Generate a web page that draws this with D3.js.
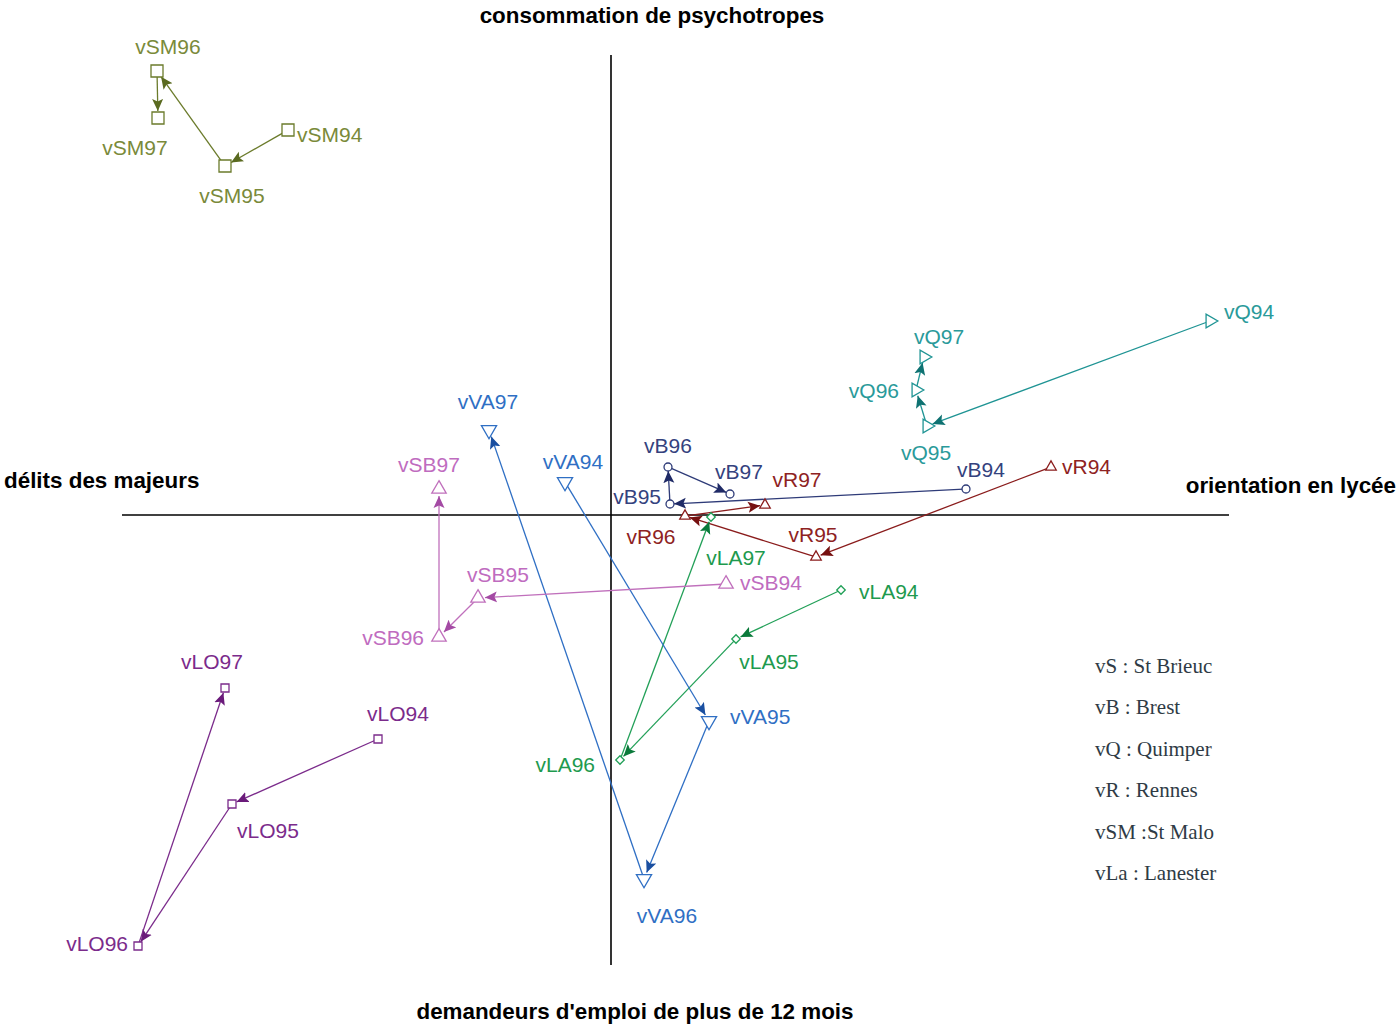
<!DOCTYPE html>
<html><head><meta charset="utf-8">
<script src="https://cdn.jsdelivr.net/npm/d3@7"></script>
<style>body{margin:0;background:#fff}svg{display:block}</style>
</head><body>
<svg id="c" width="1397" height="1024"></svg>
<script>
// ---- DATA ----
const years = ["94", "95", "96", "97"];
const seriesNames = ["vSM", "vQ", "vB", "vR", "vLA", "vVA", "vSB", "vLO"];
const xSM = [-3.23, -3.86, -4.54, -4.53];
const ySM = [3.85, 3.49, 4.44, 3.97];
const xQ = [5.99, 3.16, 3.05, 3.13];
const yQ = [1.94, 0.89, 1.25, 1.58];
const xB = [3.55, 0.59, 0.57, 1.19];
const yB = [0.26, 0.11, 0.48, 0.21];
const xR = [4.40, 2.05, 0.74, 1.54];
const yR = [0.48, -0.42, -0.01, 0.10];
const xLA = [2.30, 1.25, 0.09, 1.00];
const yLA = [-0.75, -1.24, -2.45, -0.02];
const xVA = [-0.46, 0.98, 0.33, -1.22];
const yVA = [0.33, -2.06, -3.64, 0.85];
const xSB = [1.15, -1.33, -1.72, -1.72];
const ySB = [-0.69, -0.83, -1.22, 0.26];
const xLO = [-2.33, -3.79, -4.73, -3.86];
const yLO = [-2.24, -2.89, -4.31, -1.73];
const axisTitles = ["consommation de psychotropes", "délits des majeurs", "orientation en lycée", "demandeurs d'emploi de plus de 12 mois"];
const legendLines = ["vS : St Brieuc", "vB : Brest", "vQ : Quimper", "vR : Rennes", "vSM :St Malo", "vLa : Lanester"];

// ---- STYLE / LAYOUT ----
const seriesX = [xSM, xQ, xB, xR, xLA, xVA, xSB, xLO];
const seriesY = [ySM, yQ, yB, yR, yLA, yVA, ySB, yLO];
const styles = [
  {line:"#6b7b2b", head:"#5a6a20", text:"#7a8a3a", shape:"square", size:144, rot:0, r:7},
  {line:"#1f9494", head:"#0f7272", text:"#2a9a9a", shape:"tri", size:80, rot:90, r:6},
  {line:"#2e3b78", head:"#1f2a66", text:"#34427e", shape:"circle", size:50, rot:0, r:4},
  {line:"#8a1c1c", head:"#761010", text:"#8e2222", shape:"tri", size:48, rot:0, r:5},
  {line:"#22a058", head:"#0a7a3a", text:"#1e9a4e", shape:"diamond", size:36, rot:45, r:5},
  {line:"#2f6fc4", head:"#1a4fa0", text:"#2f6fc4", shape:"tri", size:100, rot:180, r:7},
  {line:"#c070bc", head:"#a44aa4", text:"#bf6cbf", shape:"tri", size:90, rot:0, r:7},
  {line:"#7b2b8b", head:"#6a1a7a", text:"#7b2b8b", shape:"square", size:64, rot:0, r:5}
];
// label offsets [dx, dy, anchor]
const labelOffsets = {
  vSM94:[9,4,"start"], vSM95:[7,29,"middle"], vSM96:[11,-25,"middle"], vSM97:[-23,29,"middle"],
  vQ94:[14,-10,"start"], vQ95:[-1,26,"middle"], vQ96:[-17,0,"end"], vQ97:[15,-21,"middle"],
  vB94:[15,-20,"middle"], vB95:[-9,-8,"end"], vB96:[0,-22,"middle"], vB97:[9,-23,"middle"],
  vR94:[11,-1,"start"], vR95:[-3,-23,"middle"], vR96:[-34,20,"middle"], vR97:[32,-26,"middle"],
  vLA94:[18,1,"start"], vLA95:[33,22,"middle"], vLA96:[-25,4,"end"], vLA97:[25,40,"middle"],
  vVA94:[8,-21,"middle"], vVA95:[21,-5,"start"], vVA96:[23,36,"middle"], vVA97:[-1,-29,"middle"],
  vSB94:[14,-2,"start"], vSB95:[20,-24,"middle"], vSB96:[-15,0,"end"], vSB97:[-10,-25,"middle"],
  vLO94:[20,-26,"middle"], vLO95:[36,26,"middle"], vLO96:[-10,-3,"end"], vLO97:[-13,-27,"middle"]
};

const svg = d3.select("#c");
const x = d3.scaleLinear().domain([-4.89, 6.18]).range([122, 1229]);
const y = d3.scaleLinear().domain([-4.5, 4.6]).range([965, 55]);

// axes through origin
svg.append("line").attr("x1", x(-4.89)).attr("x2", x(6.18)).attr("y1", y(0)).attr("y2", y(0))
  .attr("stroke", "#000").attr("stroke-width", 1.6);
svg.append("line").attr("x1", x(0)).attr("x2", x(0)).attr("y1", y(4.6)).attr("y2", y(-4.5))
  .attr("stroke", "#000").attr("stroke-width", 1.6);

// axis titles
const tfont = "'Liberation Sans', Arial, sans-serif";
const titleStyle = s => s.attr("font-family", tfont).attr("font-weight", "bold").attr("font-size", 22.4).attr("fill", "#000");
svg.append("text").text(axisTitles[0]).attr("x", 652).attr("y", 23).attr("text-anchor", "middle").call(titleStyle);
svg.append("text").text(axisTitles[1]).attr("x", 4).attr("y", 488).attr("text-anchor", "start").call(titleStyle);
svg.append("text").text(axisTitles[2]).attr("x", 1396).attr("y", 493).attr("text-anchor", "end").call(titleStyle);
svg.append("text").text(axisTitles[3]).attr("x", 635).attr("y", 1019).attr("text-anchor", "middle").call(titleStyle);

// arrow markers
const defs = svg.append("defs");
styles.forEach((st, i) => {
  defs.append("marker").attr("id", "arr" + i)
    .attr("markerUnits", "userSpaceOnUse").attr("markerWidth", 13).attr("markerHeight", 12)
    .attr("refX", 12).attr("refY", 6).attr("orient", "auto")
    .append("path").attr("d", "M0,0.5 L12,6 L0,11.5 L2.5,6 Z").attr("fill", st.head);
});

const shapeOf = s => s === "square" || s === "diamond" ? d3.symbolSquare : s === "circle" ? d3.symbolCircle : d3.symbolTriangle;

seriesNames.forEach((name, i) => {
  const st = styles[i];
  const pts = years.map((yr, j) => ({label: name + yr, px: x(seriesX[i][j]), py: y(seriesY[i][j])}));
  const g = svg.append("g");
  // arrows
  for (let j = 0; j < pts.length - 1; j++) {
    const a = pts[j], b = pts[j + 1];
    const dx = b.px - a.px, dy = b.py - a.py, L = Math.hypot(dx, dy);
    const ux = dx / L, uy = dy / L;
    g.append("line")
      .attr("x1", a.px + ux * st.r * 0.6).attr("y1", a.py + uy * st.r * 0.6)
      .attr("x2", b.px - ux * st.r).attr("y2", b.py - uy * st.r)
      .attr("stroke", st.line).attr("stroke-width", 1.3)
      .attr("marker-end", "url(#arr" + i + ")");
  }
  // markers
  g.selectAll("path.pt").data(pts).join("path").attr("class", "pt")
    .attr("d", d3.symbol().type(shapeOf(st.shape)).size(st.size))
    .attr("transform", d => `translate(${d.px},${d.py}) rotate(${st.rot})`)
    .attr("fill", "#fff").attr("stroke", st.line).attr("stroke-width", 1.3);
  // labels
  g.selectAll("text").data(pts).join("text")
    .attr("x", d => d.px + labelOffsets[d.label][0])
    .attr("y", d => d.py + labelOffsets[d.label][1])
    .attr("text-anchor", d => labelOffsets[d.label][2])
    .attr("dominant-baseline", "central")
    .attr("font-family", tfont).attr("font-size", 21).attr("fill", st.text)
    .text(d => d.label);
});

// legend
svg.append("g").selectAll("text").data(legendLines).join("text")
  .attr("x", 1095).attr("y", (d, i) => 673 + i * 41.4)
  .attr("font-family", "'Liberation Serif', 'Times New Roman', serif").attr("font-size", 21)
  .attr("fill", "#2f3b45").text(d => d);
</script>
</body></html>
